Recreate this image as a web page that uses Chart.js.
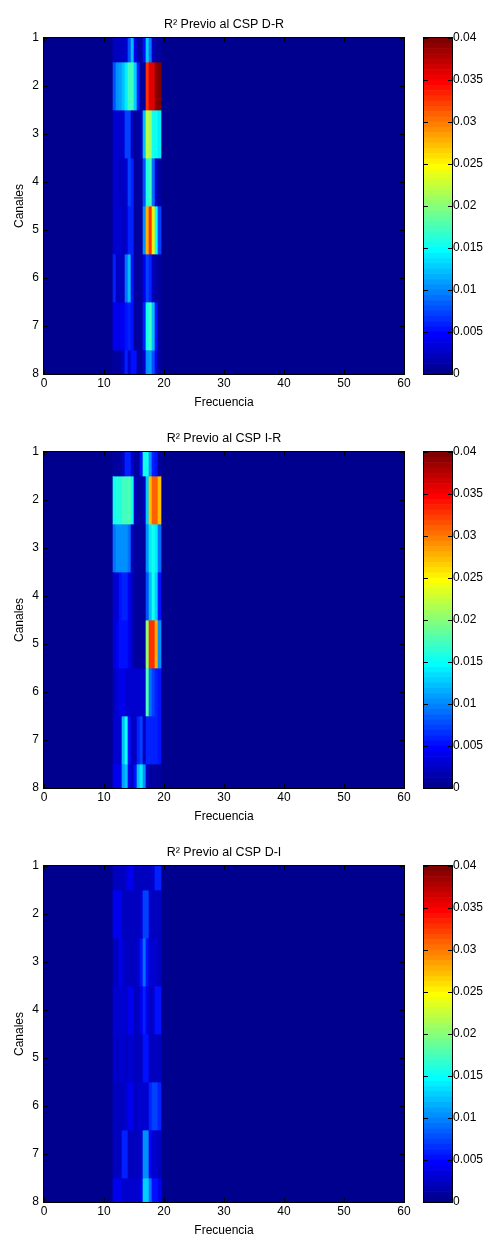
<!DOCTYPE html>
<html>
<head>
<meta charset="utf-8">
<script src="https://cdn.jsdelivr.net/npm/chart.js@4.4.0/dist/chart.umd.min.js"></script>
<style>
html, body { margin: 0; padding: 0; background: #fff; overflow: hidden; }
#lienzo { position: relative; width: 487px; height: 1235px; overflow: hidden; }
canvas { position: absolute; }
</style>
</head>
<body>
<div id="lienzo">
  <canvas id="mapa1" width="420" height="414" style="left:0;top:0"></canvas>
  <canvas id="barra1" width="87" height="414" style="left:400px;top:0"></canvas>
  <canvas id="mapa2" width="420" height="414" style="left:0;top:414px"></canvas>
  <canvas id="barra2" width="87" height="414" style="left:400px;top:414px"></canvas>
  <canvas id="mapa3" width="420" height="414" style="left:0;top:828px"></canvas>
  <canvas id="barra3" width="87" height="414" style="left:400px;top:828px"></canvas>
</div>
<script>
// centros de las columnas de frecuencia (Hz) con valores distintos de ~0
const frecuencias = [11.75, 12.25, 12.75, 13.25, 13.75, 14.25, 14.75, 15.25, 15.75, 16.25, 16.75, 17.25, 17.75, 18.25, 18.75, 19.25];
const canales = [1, 2, 3, 4, 5, 6, 7, 8];
const ticksFrecuencia = [0, 10, 20, 30, 40, 50, 60];
const ticksColorbar = [0, 0.005, 0.01, 0.015, 0.02, 0.025, 0.03, 0.035, 0.04];
const etiquetasColorbar = ['0', '0.005', '0.01', '0.015', '0.02', '0.025', '0.03', '0.035', '0.04'];

// R^2 en milesimas, una fila por canal
const r2DR = [
  [2, 2, 2, 2, 3, 8, 12, 4, 1, 1, 5, 13, 9, 2, 1, 1],
  [8, 10, 11, 12, 14, 17, 17, 13, 6, 1, 1, 33, 36, 36, 39, 40],
  [3, 3, 3, 3, 7, 7, 2, 1, 1, 2, 12, 22, 21, 15, 15, 14],
  [3, 3, 2, 2, 3, 7, 6, 1, 1, 1, 8, 16, 17, 9, 3, 1],
  [3, 3, 3, 2, 3, 6, 6, 1, 1, 1, 10, 28, 33, 25, 15, 7],
  [6, 2, 2, 2, 9, 12, 5, 1, 1, 1, 4, 7, 6, 2, 1, 1],
  [4, 4, 4, 4, 5, 6, 5, 1, 1, 1, 6, 15, 17, 12, 5, 1],
  [1, 1, 1, 2, 6, 3, 5, 5, 1, 1, 3, 10, 11, 8, 4, 1]
];
const r2IR = [
  [1, 1, 1, 2, 6, 6, 3, 1, 1, 5, 15, 15, 10, 6, 5, 1],
  [15, 16, 16, 17, 17, 18, 15, 2, 1, 1, 2, 13, 27, 31, 31, 27],
  [9, 10, 10, 10, 10, 9, 2, 1, 1, 1, 1, 10, 14, 15, 14, 9],
  [3, 3, 5, 6, 6, 4, 2, 1, 1, 1, 1, 8, 12, 15, 13, 5],
  [3, 4, 5, 5, 5, 4, 2, 1, 1, 1, 1, 20, 33, 33, 28, 10],
  [2, 3, 4, 4, 3, 3, 3, 3, 3, 3, 3, 18, 9, 7, 6, 5],
  [3, 3, 3, 12, 15, 5, 2, 2, 6, 7, 2, 6, 6, 6, 6, 5],
  [4, 4, 4, 11, 12, 4, 2, 5, 12, 14, 10, 2, 1, 1, 1, 1]
];
const r2DI = [
  [2, 2, 2, 2, 3, 4, 4, 2, 2, 2, 2, 2, 2, 3, 6, 6],
  [4, 4, 4, 2, 2, 2, 2, 2, 2, 3, 7, 7, 3, 2, 2, 2],
  [2, 2, 4, 3, 2, 2, 2, 2, 3, 5, 9, 5, 3, 3, 3, 2],
  [3, 3, 3, 3, 3, 4, 4, 2, 2, 4, 6, 4, 2, 3, 5, 5],
  [3, 2, 3, 3, 2, 3, 3, 2, 2, 2, 5, 5, 2, 2, 2, 2],
  [2, 2, 2, 2, 3, 4, 4, 2, 3, 3, 3, 3, 6, 7, 7, 6],
  [2, 2, 2, 6, 6, 2, 2, 2, 2, 3, 10, 10, 4, 3, 3, 2],
  [4, 4, 4, 3, 3, 3, 3, 3, 3, 4, 13, 13, 9, 5, 5, 4]
];
const escala = 0.001;
const cmin = 0, cmax = 0.04;

const fuente = { family: "'Liberation Sans', Arial, sans-serif", size: 12 };

// colormap jet de MATLAB con 64 niveles
function jet(m) {
  const n = Math.ceil(m / 4);
  const u = [];
  for (let i = 1; i <= n; i++) u.push(i / n);
  for (let i = 1; i < n; i++) u.push(1);
  for (let i = n; i >= 1; i--) u.push(i / n);
  const g0 = Math.ceil(n / 2) - (m % 4 === 1 ? 1 : 0);
  const mapa = [];
  for (let i = 0; i < m; i++) mapa.push([0, 0, 0]);
  u.forEach((val, k) => {
    const g = g0 + k + 1, r = g + n, b = g - n;
    if (r >= 1 && r <= m) mapa[r - 1][0] = val;
    if (g >= 1 && g <= m) mapa[g - 1][1] = val;
    if (b >= 1 && b <= m) mapa[b - 1][2] = val;
  });
  return mapa.map(c => 'rgb(' + c.map(x => Math.round(x * 255)).join(',') + ')');
}
const niveles = jet(64);

function colorDe(v) {
  let i = Math.floor((v - cmin) / (cmax - cmin) * niveles.length);
  i = Math.max(0, Math.min(niveles.length - 1, i));
  return niveles[i];
}

const marco = {
  id: 'marco',
  beforeDatasetsDraw(chart, args, o) {
    if (!o.fondo) return;
    const a = chart.chartArea, ctx = chart.ctx;
    ctx.save();
    ctx.fillStyle = o.fondo;
    ctx.fillRect(a.left, a.top, a.right - a.left, a.bottom - a.top);
    ctx.restore();
  },
  afterDraw(chart, args, o) {
    const a = chart.chartArea, ctx = chart.ctx, L = 4;
    ctx.save();
    ctx.strokeStyle = '#000';
    ctx.lineWidth = 1;
    ctx.beginPath();
    (o.ejes || []).forEach(id => {
      const s = chart.scales[id];
      s.ticks.forEach((t, i) => {
        const p = Math.round(s.getPixelForTick(i)) + 0.5;
        if (s.isHorizontal()) {
          ctx.moveTo(p, a.top); ctx.lineTo(p, a.top + L);
          ctx.moveTo(p, a.bottom); ctx.lineTo(p, a.bottom - L);
        } else {
          ctx.moveTo(a.left, p); ctx.lineTo(a.left + L, p);
          ctx.moveTo(a.right, p); ctx.lineTo(a.right - L, p);
        }
      });
    });
    ctx.stroke();
    ctx.strokeRect(a.left - 0.5, a.top - 0.5, a.right - a.left + 1, a.bottom - a.top + 1);
    ctx.restore();
  }
};

function dibujarMapa(id, titulo, filas) {
  const datasets = filas.map((fila, k) => ({
    data: fila.map((v, j) => ({ x: frecuencias[j], y: [canales[k] - 0.5, canales[k] + 0.5] })),
    backgroundColor: fila.map(v => colorDe(v * escala))
  }));
  new Chart(document.getElementById(id), {
    type: 'bar',
    data: { datasets },
    plugins: [marco],
    options: {
      responsive: false,
      animation: false,
      events: [],
      layout: { padding: { left: 0, right: 16, top: 0, bottom: 0 } },
      datasets: { bar: { grouped: false, barPercentage: 1, categoryPercentage: 1, borderWidth: 0 } },
      plugins: {
        legend: { display: false },
        tooltip: { enabled: false },
        title: {
          display: true, text: titulo, fullSize: false, color: '#000',
          font: { ...fuente, size: 12.5, weight: 'normal' }, padding: { top: 17, bottom: 6 }
        },
        marco: { fondo: colorDe(0), ejes: ['x', 'y'] }
      },
      scales: {
        x: {
          type: 'linear', min: 0, max: 60, offset: false,
          grid: { display: false, drawTicks: false, offset: false }, border: { display: false },
          afterBuildTicks: s => { s.ticks = ticksFrecuencia.map(v => ({ value: v })); },
          afterFit: s => { s.height = 40; s.paddingLeft = 0; s.paddingRight = 0; },
          ticks: { padding: 2, maxRotation: 0, autoSkip: false, color: '#000', font: fuente },
          title: { display: true, text: 'Frecuencia', color: '#000', font: fuente, padding: { top: 0, bottom: 4.5 } }
        },
        y: {
          type: 'linear', min: 1, max: 8, reverse: true,
          grid: { display: false, drawTicks: false }, border: { display: false },
          afterBuildTicks: s => { s.ticks = canales.map(v => ({ value: v })); },
          afterFit: s => { s.width = 44; s.paddingTop = 0; s.paddingBottom = 0; },
          ticks: { padding: 5, autoSkip: false, color: '#000', font: fuente },
          title: { display: true, text: 'Canales', color: '#000', font: fuente, padding: { top: 12.5, bottom: 0 } }
        }
      }
    }
  });
}

function dibujarBarra(id) {
  const paso = (cmax - cmin) / niveles.length;
  new Chart(document.getElementById(id), {
    type: 'bar',
    data: {
      labels: [''],
      datasets: niveles.map(c => ({ data: [paso], backgroundColor: c }))
    },
    plugins: [marco],
    options: {
      responsive: false,
      animation: false,
      events: [],
      layout: { padding: { left: 24, right: 0, top: 38, bottom: 40 } },
      datasets: { bar: { barPercentage: 1, categoryPercentage: 1, borderWidth: 0 } },
      plugins: {
        legend: { display: false },
        tooltip: { enabled: false },
        marco: { ejes: ['y'] }
      },
      scales: {
        x: { stacked: true, display: false },
        y: {
          stacked: true, position: 'right', min: cmin, max: cmax,
          grid: { display: false, drawTicks: false }, border: { display: false },
          afterBuildTicks: s => { s.ticks = ticksColorbar.map(v => ({ value: v })); },
          afterFit: s => { s.width = 35; s.paddingTop = 0; s.paddingBottom = 0; },
          ticks: { padding: 1, autoSkip: false, color: '#000', font: fuente, callback: (v, i) => etiquetasColorbar[i] }
        }
      }
    }
  });
}

dibujarMapa('mapa1', 'R² Previo al CSP D-R', r2DR);
dibujarMapa('mapa2', 'R² Previo al CSP I-R', r2IR);
dibujarMapa('mapa3', 'R² Previo al CSP D-I', r2DI);
dibujarBarra('barra1');
dibujarBarra('barra2');
dibujarBarra('barra3');
</script>
</body>
</html>
